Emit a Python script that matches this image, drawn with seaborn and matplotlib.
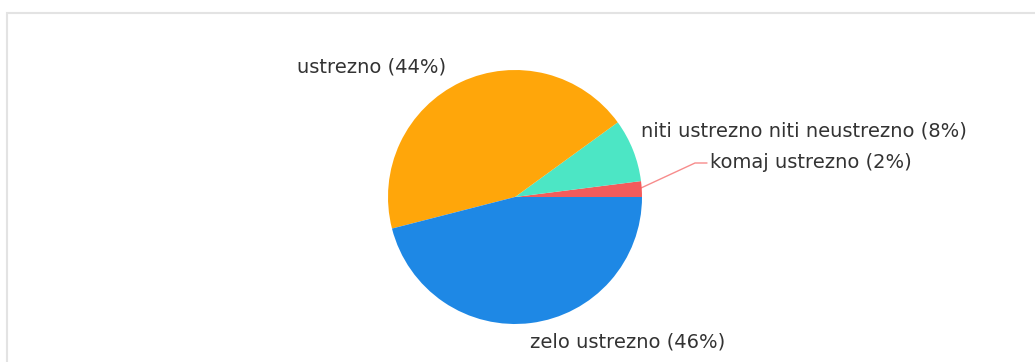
import matplotlib
matplotlib.use("Agg")
import matplotlib.pyplot as plt
import seaborn as sns
from matplotlib.patches import Rectangle

sns.set_theme(style="white")
plt.rcParams['font.family'] = ['DejaVu Sans']

labels = ["komaj ustrezno", "niti ustrezno niti neustrezno", "ustrezno", "zelo ustrezno"]
shares = [2, 8, 44, 46]
colors = ["#f45b5b", "#4ce6c5", "#ffa60a", "#1e88e5"]

W, H = 1035, 362
fig = plt.figure(figsize=(W / 100, H / 100), dpi=100)
ax = fig.add_axes([0, 0, 1, 1])

# light panel border
ax.add_patch(Rectangle((6.5, -20), W + 20, H - 12.5 + 20, fill=False,
                       edgecolor="#e3e3e3", linewidth=1.5))

cx, cy, r = 515, H - 197, 127
ax.pie(shares, colors=colors, startangle=0, counterclock=True,
       center=(cx, cy), radius=r, frame=True,
       wedgeprops=dict(linewidth=0))
ax.set_xlim(0, W)
ax.set_ylim(0, H)
ax.set_aspect("equal")
ax.axis("off")

txt = dict(color="#333333", fontsize=14, va="center")
ax.text(297, H - 67, f"{labels[2]} ({shares[2]}%)", ha="left", **txt)
ax.text(641, H - 131, f"{labels[1]} ({shares[1]}%)", ha="left", **txt)
ax.text(710, H - 163, f"{labels[0]} ({shares[0]}%)", ha="left", **txt)
ax.text(530, H - 342, f"{labels[3]} ({shares[3]}%)", ha="left", **txt)

# leader line for the thin slice
ax.plot([641, 695, 707], [H - 188, H - 163, H - 163], color="#f45b5b",
        linewidth=1, alpha=0.7)

fig.savefig("out.png", dpi=100, facecolor="white")
